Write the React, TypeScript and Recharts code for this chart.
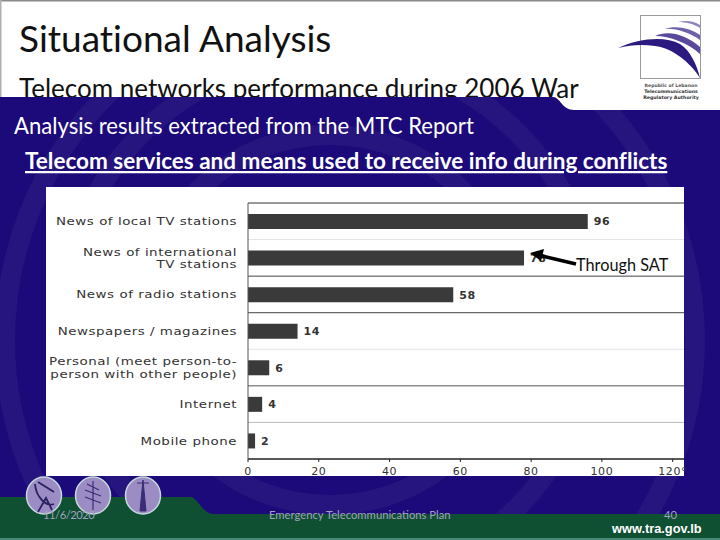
import { BarChart, Bar, XAxis, YAxis, CartesianGrid, LabelList } from "recharts";

const categories = [
  "News of local TV stations",
  "News of international\nTV stations",
  "News of radio stations",
  "Newspapers / magazines",
  "Personal (meet person-to-\nperson with other people)",
  "Internet",
  "Mobile phone",
];
const values = [96, 78, 58, 14, 6, 4, 2];
const xTicks = [0, 20, 40, 60, 80, 100, 120];
// the gridlines in the scan are not all the same shade
const gridColors = ["#333333", "#e4e4e4", "#444444", "#444444", "#e4e4e4", "#555555", "#bbbbbb", "#222222"];

const data = categories.map((name, i) => ({ name, value: values[i] }));

const CHART_FONT = "'DejaVu Sans', sans-serif";
const SLIDE_FONT = "Lato, sans-serif";
const NO_LIGATURES = { fontVariantLigatures: "none" } as const;

// labels in the scan are stretched sideways, so scale them around their right edge
const CategoryTick = ({ x, y, payload }: any) => {
  const lines = String(payload.value).split("\n");
  const lineGap = 12.4;
  const startY = y + 4 - ((lines.length - 1) * lineGap) / 2;
  return (
    <text
      x={x}
      y={startY}
      textAnchor="end"
      fontFamily={CHART_FONT}
      fontSize={10.5}
      letterSpacing={0.4}
      fill="#333333"
      transform={`translate(${x} 0) scale(1.28 1) translate(${-x} 0)`}
    >
      {lines.map((line, i) => (
        <tspan key={line} x={x} y={startY + i * lineGap}>
          {line}
        </tspan>
      ))}
    </text>
  );
};

const GridLine = (props: any) => (
  <line x1={props.x1} x2={props.x2} y1={props.y1} y2={props.y2} stroke={gridColors[props.index] ?? "#444444"} strokeWidth={1} />
);

const bandLines = ({ offset }: any) =>
  categories.map((_, i) => offset.top + (i * offset.height) / categories.length).concat(offset.top + offset.height);

const Background = () => (
  <svg width={720} height={540} style={{ position: "absolute", left: 0, top: 0 }}>
    <defs>
      <clipPath id="navyArea">
        <path d="M0 97 H553 C560 97 562 110 574 110 H720 V540 H0 Z" />
      </clipPath>
    </defs>
    <rect width={720} height={540} fill="#ffffff" />
    <rect x={0} y={0} width={720} height={1.5} fill="#8a8a8a" />
    <rect x={0} y={0} width={1.5} height={100} fill="#b0b0b0" />
    <text x={19} y={52} fontFamily={SLIDE_FONT} fontSize={37} fill="#111111" style={NO_LIGATURES}>Situational Analysis</text>
    <text x={19} y={98} fontFamily={SLIDE_FONT} fontSize={26} fill="#111111" style={NO_LIGATURES}>Telecom networks performance during 2006 War</text>

    {/* logo */}
    <rect x={640.5} y={15.5} width={60} height={63} fill="#ffffff" stroke="#9a9a9a" strokeWidth={1} />
    <path d="M618 48 C640 38 665 36 680 44 C690 50 697 65 700 78 C690 62 672 48 655 46 C642 44 630 45 618 48 Z" fill="#2c1a80" />
    <path d="M655 36 C668 30 685 34 700 47 V54 C688 43 670 36 655 36 Z" fill="#5a489c" />
    <path d="M664 29 C676 25 690 28 700 35 V40 C690 33 676 28 664 29 Z" fill="#6f60ab" />
    <path d="M678 22 C686 20 694 21 700 25 V28 C694 24 686 22 678 22 Z" fill="#8f84bd" />
    <text x={671} y={87} textAnchor="middle" fontFamily={CHART_FONT} fontSize={4.6} fontWeight="bold" fill="#555555">Republic of Lebanon</text>
    <text x={671} y={93} textAnchor="middle" fontFamily={CHART_FONT} fontSize={4.7} fontWeight="bold" fill="#333333">Telecommunications</text>
    <text x={671} y={99} textAnchor="middle" fontFamily={CHART_FONT} fontSize={4.7} fontWeight="bold" fill="#333333">Regulatory Authority</text>

    {/* navy body with the pale rings */}
    <path d="M0 97 H553 C560 97 562 110 574 110 H720 V540 H0 Z" fill="#1c0a7a" />
    <g clipPath="url(#navyArea)" fill="none" stroke="#26157f" strokeWidth={20}>
      <circle cx={330} cy={320} r={185} />
      <circle cx={330} cy={320} r={265} />
      <circle cx={350} cy={340} r={345} />
    </g>

    {/* green footer */}
    <path d="M0 497 H190 C198 497 202 514 214 514 H720 V540 H0 Z" fill="#0f4f32" />
    <rect x={0} y={538} width={720} height={2} fill="#4a8a78" />

    {/* round icons */}
    {[44, 93, 143].map((cx) => (
      <ellipse key={cx} cx={cx} cy={495.5} rx={17.5} ry={18.5} fill="#9b8cc4" stroke="#c6d8dc" strokeWidth={1.5} />
    ))}
    <path d="M35 484 C36 497 46 507 54 504 M38 482 L54 492 M38 512 L46 498 L52 510" fill="none" stroke="#2c2160" strokeWidth={1.8} />
    <path d="M93 481 V510 M85 490 L101 496 M85 497 L101 503 M87 484 L99 490" fill="none" stroke="#3a2d75" strokeWidth={1.2} />
    <path d="M143 480 L140 511 H146 Z M137 483 H149" fill="#3a2d75" stroke="#3a2d75" strokeWidth={1} />

    <text x={43} y={519} fontFamily={SLIDE_FONT} fontSize={11.25} letterSpacing={-0.5} fill="#9fa3bc">11/6/2020</text>
    <text x={269} y={519} fontFamily={SLIDE_FONT} fontSize={11.25} fill="#9fa3bc">Emergency Telecommunications Plan</text>
    <text x={664} y={519} fontFamily={SLIDE_FONT} fontSize={11.25} fill="#9fa3bc">40</text>
    <text x={612} y={533} fontFamily={"'Liberation Sans', sans-serif"} fontSize={12.8} fontWeight="bold" fill="#ffffff">www.tra.gov.lb</text>

    <text x={14} y={134} fontFamily={SLIDE_FONT} fontSize={22.1} fill="#ffffff" style={NO_LIGATURES}>Analysis results extracted from the MTC Report</text>
    <text x={25} y={169} fontFamily={SLIDE_FONT} fontSize={22.5} fontWeight="bold" fill="#ffffff" textDecoration="underline" style={NO_LIGATURES}>
      Telecom services and means used to receive info during conflicts
    </text>
    <rect x={46} y={187} width={638} height={289} fill="#ffffff" />
  </svg>
);

const Annotation = () => (
  <svg width={720} height={540} style={{ position: "absolute", left: 0, top: 0, pointerEvents: "none" }}>
    <line x1={576} y1={264} x2={540} y2={255.5} stroke="#000000" strokeWidth={3.5} />
    <path d="M530 253 L544 249 L541 261 Z" fill="#000000" />
    <text x={576} y={271} fontFamily={SLIDE_FONT} fontSize={16.3} fill="#111111">Through SAT</text>
  </svg>
);

export default function App() {
  return (
    <div style={{ position: "absolute", left: 0, top: 0, width: 720, height: 540, overflow: "hidden" }}>
      <Background />
      <div style={{ position: "absolute", left: 46, top: 187 }}>
        <BarChart width={650} height={300} data={data} layout="vertical" margin={{ top: 16, right: 12, bottom: 0, left: 0 }} barSize={15}>
          <CartesianGrid vertical={false} horizontal={GridLine} horizontalCoordinatesGenerator={bandLines} />
          <XAxis
            type="number"
            domain={[0, 123.2]}
            ticks={xTicks}
            height={28}
            tickSize={3}
            tickMargin={5}
            tick={{ fontFamily: CHART_FONT, fontSize: 11, fill: "#333333", letterSpacing: 0.6 }}
            tickFormatter={(v: number) => (v === 120 ? "120°" : String(v))}
            axisLine={{ stroke: "#222222" }}
            tickLine={{ stroke: "#222222" }}
          />
          <YAxis
            type="category"
            dataKey="name"
            width={202}
            tick={<CategoryTick />}
            tickSize={0}
            tickMargin={11}
            axisLine={{ stroke: "#555555" }}
          />
          <Bar dataKey="value" fill="#3a3a3a" isAnimationActive={false}>
            <LabelList
              dataKey="value"
              position="right"
              offset={6}
              style={{ fontFamily: CHART_FONT, fontSize: 11, fontWeight: "bold", fill: "#333333", letterSpacing: 0.6 }}
            />
          </Bar>
        </BarChart>
      </div>
      <Annotation />
    </div>
  );
}
